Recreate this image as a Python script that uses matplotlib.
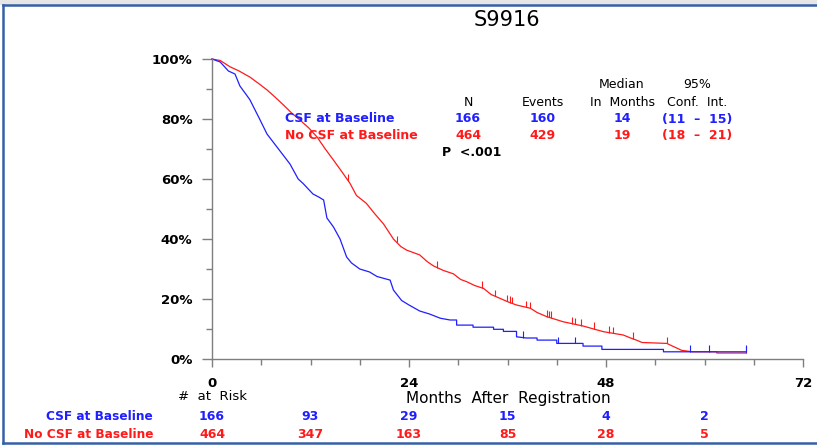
import numpy as np
import matplotlib
matplotlib.use("Agg")
import matplotlib.pyplot as plt
from matplotlib.transforms import blended_transform_factory
from matplotlib.patches import Rectangle
from matplotlib.lines import Line2D
from matplotlib.ticker import MultipleLocator, PercentFormatter

# Kaplan-Meier curves (months, survival %)
# repeated months mark the visible drops of the step curve in the tail
csf_months = [0, 1.0, 2.0, 2.8, 3.4, 4.6, 5.8, 6.7, 8.1, 9.5, 10.5, 11.1, 12.3, 13.0, 13.6,
              14.0, 14.8, 15.6, 16.4, 17.0, 18.0, 19.2, 20.1, 21.7, 22.1, 23.1, 24.0, 25.3,
              26.5, 27.8, 29.0, 29.8, 29.8, 31.8, 31.8, 34.3, 34.3, 35.5, 35.5, 37.1, 37.1,
              38.3, 39.6, 39.6, 42.0, 42.0, 45.2, 45.2, 47.5, 47.5, 55.0, 55.0, 65.1]
csf_surv = [100, 99, 96, 95, 91, 86.5, 80, 75, 70, 65, 60, 58.5, 55, 54, 53,
            47, 44, 40, 34, 32, 30, 29, 27.5, 26.3, 23, 19.5, 18, 16,
            15, 13.6, 13, 13, 11.3, 11.3, 10.6, 10.6, 9.9, 9.9, 9.2, 9.2, 7.4,
            7.0, 7.0, 6.3, 6.3, 5.2, 5.2, 4.3, 4.3, 3.2, 3.2, 2.4, 2.4]
csf_censor = [37.9, 42.2, 44.2, 58.2, 60.5, 65.1]

nocsf_months = [0, 1.0, 2.2, 3.3, 4.6, 5.6, 6.7, 7.6, 8.7, 9.7, 10.7, 11.8, 12.8, 13.8,
                14.8, 15.8, 16.8, 17.6, 18.8, 19.8, 20.9, 22.1, 23.0, 23.7, 25.3, 26.2,
                27.0, 28.2, 29.4, 30.3, 31.0, 32.0, 33.1, 34.0, 35.1, 36.1, 37.1, 38.8,
                39.6, 40.8, 42.8, 44.0, 45.2, 46.5, 47.7, 50.1, 51.0, 51.7, 52.4, 55.4,
                56.5, 57.2, 58.5, 61.5, 61.5, 65.1]
nocsf_surv = [100, 99.5, 97.4, 96, 94, 92, 89.7, 87.5, 84.7, 82, 79.7, 77, 74, 70,
              66.3, 62.5, 58.6, 54.5, 51.9, 48.5, 45, 40, 37.5, 36.3, 34.7, 32.5,
              31, 29.5, 28.4, 26.5, 25.8, 24.5, 23.5, 21.5, 20.2, 19, 18, 16.9,
              15.5, 14.1, 12.4, 11.7, 11, 10, 9.1, 8, 7, 6.3, 5.5, 5.2,
              3.8, 2.9, 2.4, 2.4, 2.0, 2.0]
nocsf_censor = [16.6, 22.5, 27.4, 32.9, 34.5, 35.9, 36.3, 36.5, 38.3, 38.7, 40.8, 41.1,
                41.3, 43.8, 44.2, 45.0, 46.5, 48.4, 48.9, 51.3, 55.4, 65.1]

# summary table
groups = ["CSF at Baseline", "No CSF at Baseline"]
n_pts = [166, 464]
events = [160, 429]
median = [14, 19]
ci = ["(11  \u2013  15)", "(18  \u2013  21)"]
p_text = "P  <.001"

# number at risk
risk_months = [0, 12, 24, 36, 48, 60]
csf_risk = [166, 93, 29, 15, 4, 2]
nocsf_risk = [464, 347, 163, 85, 28, 5]

BLUE = "#1f1fff"
RED = "#ff1a1a"
W, H = 817, 447

fig = plt.figure(figsize=(W / 100, H / 100), dpi=100)
plt.rcParams['font.family'] = 'DejaVu Sans'

def px(x, y):
    return x / W, 1 - y / H

# slide-like border (left, top, bottom only)
fig.patches.append(Rectangle((0, 1 - 4 / H), 1, 4 / H, transform=fig.transFigure,
                             color="#e6e6e6", zorder=0))
bx0, by0, by1 = px(3, 5)[0], px(0, 443)[1], px(0, 5)[1]
for xs, ys in [([bx0, bx0], [by0, by1]), ([bx0, 1], [by1, by1]), ([bx0, 1], [by0, by0])]:
    fig.lines.append(Line2D(xs, ys, transform=fig.transFigure, color="#3560a8", lw=1.8))

ax = fig.add_axes([212 / W, 88 / H, 591 / W, 300 / H])
ax.set_xlim(0, 72)
ax.set_ylim(0, 100)

def km(ax, t, s, cens, color):
    ax.plot(t, s, color=color, lw=0.9, clip_on=False)
    y = np.interp(cens, t, s)
    ax.vlines(cens, y, y + 2.2, color=color, lw=0.8, clip_on=False)

km(ax, nocsf_months, nocsf_surv, nocsf_censor, RED)
km(ax, csf_months, csf_surv, csf_censor, BLUE)

for side in ["top", "right"]:
    ax.spines[side].set_visible(False)
for side in ["left", "bottom"]:
    ax.spines[side].set_color("#7f7f7f")
    ax.spines[side].set_linewidth(1.0)

ax.xaxis.set_major_locator(MultipleLocator(24))
ax.xaxis.set_minor_locator(MultipleLocator(6))
ax.yaxis.set_major_locator(MultipleLocator(20))
ax.yaxis.set_minor_locator(MultipleLocator(10))
ax.yaxis.set_major_formatter(PercentFormatter(decimals=0))
ax.tick_params(axis="both", which="both", color="#7f7f7f", width=1.0)
ax.tick_params(axis="y", which="major", length=7, pad=7)
ax.tick_params(axis="y", which="minor", length=4.5)
ax.tick_params(axis="x", which="major", length=6, pad=7)
ax.tick_params(axis="x", which="minor", length=4)
for lab in ax.get_xticklabels() + ax.get_yticklabels():
    lab.set_fontsize(9.5)
    lab.set_fontweight("bold")

# title
fig.text(*px(507, 20), "S9916", fontsize=15, ha="center", va="center")

# legend labels inside plot
fig.text(*px(285, 119), groups[0], color=BLUE, fontsize=9, fontweight="bold", va="center")
fig.text(*px(285, 136), groups[1], color=RED, fontsize=9, fontweight="bold", va="center")

# summary table
cols = [468, 543, 622, 697]
fig.text(*px(622, 85), "Median", fontsize=9, ha="center", va="center")
fig.text(*px(697, 85), "95%", fontsize=9, ha="center", va="center")
for x, h in zip(cols, ["N", "Events", "In  Months", "Conf.  Int."]):
    fig.text(*px(x, 102), h, fontsize=9, ha="center", va="center")
rows = [(119, BLUE), (136, RED)]
for i, (y, col) in enumerate(rows):
    vals = [n_pts[i], events[i], median[i], ci[i]]
    for x, v in zip(cols, vals):
        fig.text(*px(x, y), str(v), color=col, fontsize=9, fontweight="bold",
                 ha="center", va="center")
fig.text(*px(472, 152), p_text, fontsize=9, fontweight="bold", ha="center", va="center")

# axis title and risk table
fig.text(*px(508, 399), "Months  After  Registration", fontsize=11, ha="center", va="center")
fig.text(*px(212, 397), "#  at  Risk", fontsize=9.5, ha="center", va="center")
fig.text(*px(153, 416), groups[0], color=BLUE, fontsize=8.7, fontweight="bold",
         ha="right", va="center")
fig.text(*px(153, 434), groups[1], color=RED, fontsize=8.7, fontweight="bold",
         ha="right", va="center")
tr = blended_transform_factory(ax.transData, fig.transFigure)
for m, a, b in zip(risk_months, csf_risk, nocsf_risk):
    ax.text(m, 1 - 416 / H, str(a), transform=tr, color=BLUE, fontsize=9,
            fontweight="bold", ha="center", va="center")
    ax.text(m, 1 - 434 / H, str(b), transform=tr, color=RED, fontsize=9,
            fontweight="bold", ha="center", va="center")

fig.savefig("out.png", dpi=100)
